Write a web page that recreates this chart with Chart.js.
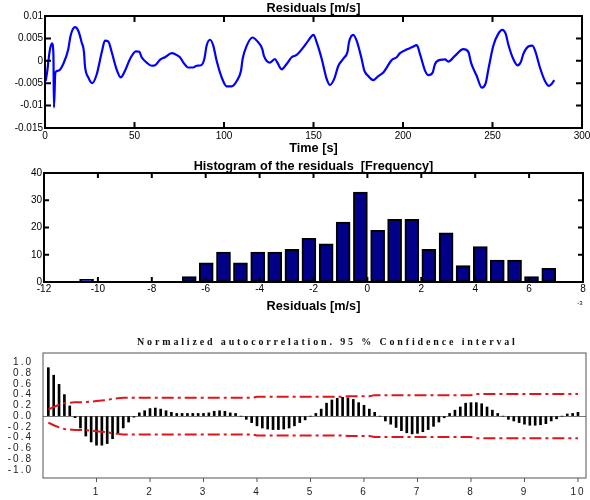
<!DOCTYPE html>
<html>
<head>
<meta charset="utf-8">
<script src="https://cdn.jsdelivr.net/npm/chart.js@4.4.1/dist/chart.umd.min.js"></script>
<style>
  html, body { margin: 0; padding: 0; background: #fff; }
  #page { position: relative; width: 590px; height: 500px; overflow: hidden; }
  canvas { position: absolute; left: 0; }
</style>
</head>
<body>
<div id="page">
  <canvas id="resid" width="590" height="160" style="top:0px"></canvas>
  <canvas id="hist" width="590" height="155" style="top:160px"></canvas>
  <canvas id="acf" width="590" height="170" style="top:330px"></canvas>
</div>
<script>
// ---- Residual time series ----
const timeSec = [0.4, 1.3, 1.8, 2.8, 3.9, 4.7, 5.0, 5.8, 7.5, 10.2,
  13, 14.3, 16.8, 18.6, 20.5, 21.8, 22.3, 24.2, 26.4, 28.9,
  31.7, 33.5, 35.4, 37.3, 40, 42.3, 44.7, 47.5, 50.8, 52.7,
  54, 56.8, 59.6, 61.5, 64.2, 67, 70.8, 72.6, 75.4, 77.3,
  80, 82.8, 84.7, 87.2, 89, 90.3, 92.2, 94, 95.9, 98.7,
  101.5, 104.3, 107.1, 109.5, 110.4, 112.7, 116, 118.3, 121.4, 122.3,
  125.7, 128.5, 129.8, 132.2, 135, 137.8, 140.6, 144.3, 147.1, 150,
  151.8, 154.6, 157.4, 159.2, 161.5, 163.9, 166.7, 169, 169.8, 172.2,
  174.1, 176.9, 178.4, 180.6, 183.4, 186.2, 189, 190.9, 193.7, 196.5,
  198.3, 202, 204.9, 207.7, 209.5, 212.3, 214.1, 216.6, 217.9, 220.7,
  223.5, 225.3, 229, 233.7, 236.5, 238, 241.2, 244, 246.2, 247.7,
  250.5, 253.2, 255.5, 257.4, 258.8, 261.6, 264, 265.9, 267.2, 270,
  272.3, 274.1, 276.5, 279.3, 281.6, 283, 284.5];
const residual = [-0.0045, -0.0022, -0.0004, 0.0026, 0.0039, 0.0015, -0.0104, -0.0026, -0.0022, -0.0007,
  0.0026, 0.0056, 0.0075, 0.0067, 0.0041, 0.0019, -0.0011, -0.0037, -0.0050, -0.0030,
  0.0019, 0.0045, 0.0043, 0.0019, -0.0019, -0.0037, -0.0022, 0.0004, 0.0021, 0.0020,
  0.0008, -0.0004, -0.0011, -0.0010, 0.0002, 0.0008, 0.0017, 0.0015, 0.0008, -0.0004,
  -0.0015, -0.0015, -0.0011, -0.0010, 0.0004, 0.0034, 0.0047, 0.0034, 0.0000, -0.0037,
  -0.0057, -0.0057, -0.0045, -0.0022, 0.0004, 0.0034, 0.0052, 0.0045, 0.0026, 0.0011,
  -0.0004, 0.0004, -0.0004, -0.0019, -0.0007, 0.0008, 0.0013, 0.0030, 0.0045, 0.0058,
  0.0041, 0.0004, -0.0041, -0.0054, -0.0041, -0.0011, 0.0005, 0.0020, 0.0041, 0.0058,
  0.0045, 0.0004, -0.0022, -0.0034, -0.0043, -0.0034, -0.0026, -0.0015, 0.0002, 0.0008,
  0.0017, 0.0025, 0.0030, 0.0035, 0.0015, -0.0022, -0.0032, -0.0026, -0.0007, 0.0002,
  0.0003, -0.0002, 0.0011, 0.0026, 0.0020, -0.0004, -0.0034, -0.0060, -0.0050, -0.0019,
  0.0034, 0.0060, 0.0069, 0.0060, 0.0037, 0.0004, -0.0010, -0.0002, 0.0015, 0.0032,
  0.0034, 0.0019, -0.0015, -0.0045, -0.0056, -0.0052, -0.0043];

// ---- Histogram of residuals (bin centres in 1e-3 m/s) ----
const binCenters = [-10.42, -9.79, -9.15, -8.52, -7.88, -7.25, -6.61, -5.98, -5.34, -4.71,
  -4.07, -3.44, -2.80, -2.17, -1.53, -0.90, -0.26, 0.38, 1.01, 1.65,
  2.28, 2.92, 3.55, 4.19, 4.82, 5.46, 6.09, 6.73];
const binCounts = [1, 0, 0, 0, 0, 0, 2, 7, 11, 7,
  11, 11, 12, 16, 14, 22, 33, 19, 23, 23,
  12, 18, 6, 13, 8, 8, 2, 5];

// ---- Normalized autocorrelation ----
const lags = [0.1, 0.2, 0.3, 0.4, 0.5, 0.6, 0.7, 0.8, 0.9, 1.0,
  1.1, 1.2, 1.3, 1.4, 1.5, 1.6, 1.7, 1.8, 1.9, 2.0,
  2.1, 2.2, 2.3, 2.4, 2.5, 2.6, 2.7, 2.8, 2.9, 3.0,
  3.1, 3.2, 3.3, 3.4, 3.5, 3.6, 3.7, 3.8, 3.9, 4.0,
  4.1, 4.2, 4.3, 4.4, 4.5, 4.6, 4.7, 4.8, 4.9, 5.0,
  5.1, 5.2, 5.3, 5.4, 5.5, 5.6, 5.7, 5.8, 5.9, 6.0,
  6.1, 6.2, 6.3, 6.4, 6.5, 6.6, 6.7, 6.8, 6.9, 7.0,
  7.1, 7.2, 7.3, 7.4, 7.5, 7.6, 7.7, 7.8, 7.9, 8.0,
  8.1, 8.2, 8.3, 8.4, 8.5, 8.6, 8.7, 8.8, 8.9, 9.0,
  9.1, 9.2, 9.3, 9.4, 9.5, 9.6, 9.7, 9.8, 9.9, 10.0];
const autocorr = [0.90, 0.76, 0.59, 0.40, 0.19, -0.03, -0.22, -0.37, -0.48, -0.54,
  -0.54, -0.51, -0.42, -0.31, -0.22, -0.11, -0.02, 0.06, 0.10, 0.14,
  0.15, 0.13, 0.10, 0.07, 0.05, 0.05, 0.05, 0.05, 0.05, 0.05,
  0.06, 0.09, 0.10, 0.09, 0.06, 0.05, 0.00, -0.06, -0.12, -0.18,
  -0.22, -0.24, -0.25, -0.25, -0.24, -0.22, -0.18, -0.12, -0.07, 0.00,
  0.05, 0.13, 0.24, 0.30, 0.33, 0.35, 0.34, 0.31, 0.25, 0.20,
  0.13, 0.07, 0.00, -0.09, -0.15, -0.21, -0.27, -0.31, -0.33, -0.32,
  -0.29, -0.25, -0.19, -0.11, -0.03, 0.05, 0.11, 0.17, 0.24, 0.25,
  0.25, 0.23, 0.17, 0.11, 0.05, 0.00, -0.06, -0.09, -0.12, -0.15,
  -0.17, -0.17, -0.16, -0.14, -0.09, -0.05, 0.00, 0.04, 0.05, 0.07];
// 95 % confidence band half-width at each lag
const confLimit = [0.12, 0.17, 0.21, 0.24, 0.25, 0.26, 0.26, 0.26, 0.27, 0.28,
  0.29, 0.30, 0.32, 0.33, 0.34, 0.34, 0.34, 0.34, 0.34, 0.34,
  0.34, 0.34, 0.34, 0.34, 0.34, 0.34, 0.34, 0.34, 0.34, 0.34,
  0.34, 0.34, 0.34, 0.34, 0.34, 0.34, 0.34, 0.34, 0.34, 0.36,
  0.36, 0.36, 0.36, 0.36, 0.36, 0.36, 0.36, 0.36, 0.36, 0.36,
  0.36, 0.36, 0.36, 0.36, 0.36, 0.36, 0.37, 0.37, 0.37, 0.37,
  0.37, 0.39, 0.39, 0.39, 0.39, 0.39, 0.39, 0.39, 0.39, 0.39,
  0.39, 0.39, 0.39, 0.39, 0.39, 0.39, 0.39, 0.39, 0.39, 0.39,
  0.41, 0.41, 0.41, 0.41, 0.41, 0.41, 0.41, 0.41, 0.41, 0.41,
  0.41, 0.41, 0.41, 0.41, 0.41, 0.41, 0.41, 0.41, 0.41, 0.41];

const SANS = '"Liberation Sans", Arial, sans-serif';
const SERIF = '"Liberation Serif", "Times New Roman", serif';

// Box around the plot area, tick marks, and free-standing captions
const framePlugin = {
  id: 'frame',
  afterDatasetsDraw(chart, _args, o) {
    const { ctx, chartArea: a, scales } = chart;
    ctx.save();
    (o.texts || []).forEach(t => {
      ctx.font = t.font;
      ctx.fillStyle = t.color || '#000';
      ctx.textAlign = t.align || 'center';
      ctx.textBaseline = 'middle';
      ctx.letterSpacing = t.spacing || '0px';
      const x = t.x === 'mid' ? (a.left + a.right) / 2 : t.x;
      ctx.fillText(t.text, x, t.y);
    });
    ctx.letterSpacing = '0px';
    ctx.strokeStyle = o.color;
    ctx.lineWidth = o.width;
    ctx.strokeRect(a.left, a.top, a.right - a.left, a.bottom - a.top);
    ctx.lineWidth = o.tickWidth;
    ctx.beginPath();
    const tl = o.tickLen;
    scales.x.ticks.forEach(t => {
      const px = scales.x.getPixelForValue(t.value);
      if (o.inward) {
        ctx.moveTo(px, a.bottom); ctx.lineTo(px, a.bottom - tl);
        ctx.moveTo(px, a.top); ctx.lineTo(px, a.top + tl);
      } else if (t.value > 0) {
        ctx.moveTo(px, a.bottom); ctx.lineTo(px, a.bottom + tl);
      }
    });
    if (o.inward) {
      scales.y.ticks.forEach(t => {
        const py = scales.y.getPixelForValue(t.value);
        ctx.moveTo(a.left, py); ctx.lineTo(a.left + tl, py);
        ctx.moveTo(a.right, py); ctx.lineTo(a.right - tl, py);
      });
    }
    ctx.stroke();
    ctx.restore();
  }
};

const fixX = h => s => { s.height = h; s.paddingLeft = 0; s.paddingRight = 0; };
const fixY = w => s => { s.width = w; s.paddingTop = 0; s.paddingBottom = 0; };
const tickFont = { family: SANS, size: 10 };

// ---- Panel 1: residuals over time ----
new Chart(document.getElementById('resid'), {
  type: 'line',
  data: {
    datasets: [{
      data: timeSec.map((t, i) => ({ x: t, y: residual[i] })),
      borderColor: '#0000ff',
      borderWidth: 2.2,
      pointRadius: 0,
      cubicInterpolationMode: 'monotone',
      fill: false
    }]
  },
  options: {
    responsive: false, animation: false, devicePixelRatio: 1,
    layout: { padding: { top: 16, right: 8, bottom: 0, left: 0 } },
    plugins: {
      legend: { display: false }, tooltip: { enabled: false },
      frame: {
        color: '#000', width: 2, tickWidth: 2, tickLen: 6, inward: true,
        texts: [
          { text: 'Residuals [m/s]', x: 'mid', y: 8, font: 'bold 12.7px ' + SANS },
          { text: 'Time [s]', x: 'mid', y: 148, font: 'bold 12.7px ' + SANS }
        ]
      }
    },
    scales: {
      x: {
        type: 'linear', min: 0, max: 300,
        grid: { display: false, drawTicks: false }, border: { display: false },
        ticks: { stepSize: 50, autoSkip: false, padding: 2, color: '#000', font: tickFont, maxRotation: 0 },
        afterFit: fixX(32)
      },
      y: {
        min: -0.015, max: 0.01,
        grid: { display: false, drawTicks: false }, border: { display: false },
        ticks: { stepSize: 0.005, autoSkip: false, padding: 2, color: '#000', font: tickFont,
          callback: v => String(parseFloat(v.toFixed(4))) },
        afterFit: fixY(45)
      }
    }
  },
  plugins: [framePlugin]
});

// ---- Panel 2: histogram ----
new Chart(document.getElementById('hist'), {
  type: 'bar',
  data: {
    datasets: [{
      data: binCenters.map((c, i) => ({ x: c, y: binCounts[i] })),
      backgroundColor: '#000088',
      borderColor: '#000',
      borderWidth: 2,
      borderSkipped: false,
      barThickness: 14
    }]
  },
  options: {
    responsive: false, animation: false, devicePixelRatio: 1,
    layout: { padding: { top: 13, right: 7, bottom: 0, left: 0 } },
    plugins: {
      legend: { display: false }, tooltip: { enabled: false },
      frame: {
        color: '#000', width: 2, tickWidth: 2, tickLen: 5, inward: true,
        texts: [
          { text: 'Histogram of the residuals  [Frequency]', x: 'mid', y: 6, font: 'bold 12.7px ' + SANS },
          { text: 'Residuals [m/s]', x: 'mid', y: 146, font: 'bold 12.7px ' + SANS },
          { text: '-3', x: 580, y: 143, font: '6px ' + SANS }
        ]
      }
    },
    scales: {
      x: {
        type: 'linear', min: -12, max: 8, offset: false,
        grid: { display: false, drawTicks: false }, border: { display: false },
        ticks: { stepSize: 2, autoSkip: false, padding: 1, color: '#000', font: tickFont, maxRotation: 0 },
        afterFit: fixX(33)
      },
      y: {
        min: 0, max: 40,
        grid: { display: false, drawTicks: false }, border: { display: false },
        ticks: { stepSize: 10, autoSkip: false, padding: 2, color: '#000', font: tickFont },
        afterFit: fixY(44)
      }
    }
  },
  plugins: [framePlugin]
});

// ---- Panel 3: autocorrelation with confidence band ----
const spacedText = {
  id: 'spacedText',
  beforeDraw(c) { c.ctx.letterSpacing = '2px'; },
  afterDraw(c) { c.ctx.letterSpacing = '0px'; }
};
const bandStyle = {
  type: 'line', borderColor: '#e0141c', borderWidth: 2, pointRadius: 0,
  borderDash: [12, 4, 3, 4], fill: false, tension: 0
};
new Chart(document.getElementById('acf'), {
  type: 'bar',
  data: {
    datasets: [
      { data: lags.map((l, i) => ({ x: l, y: autocorr[i] })), backgroundColor: '#000', barThickness: 2, order: 2 },
      Object.assign({ data: lags.map((l, i) => ({ x: l, y: confLimit[i] })), order: 1 }, bandStyle),
      Object.assign({ data: lags.map((l, i) => ({ x: l, y: -confLimit[i] })), order: 1 }, bandStyle)
    ]
  },
  options: {
    responsive: false, animation: false, devicePixelRatio: 1,
    layout: { padding: { top: 23, right: 4, bottom: 0, left: 0 } },
    plugins: {
      legend: { display: false }, tooltip: { enabled: false },
      frame: {
        color: '#555', width: 1, tickWidth: 1, tickLen: 4, inward: false,
        texts: [
          { text: 'Normalized autocorrelation. 95 % Confidence interval', x: 137, y: 12, align: 'left',
            font: 'bold 10px ' + SERIF, spacing: '2.85px', color: '#111' }
        ]
      }
    },
    scales: {
      x: {
        type: 'linear', min: 0, max: 10.15, offset: false,
        grid: { display: false, drawTicks: false }, border: { display: false },
        ticks: { stepSize: 1, autoSkip: false, includeBounds: false, padding: 8, color: '#222', font: tickFont, maxRotation: 0,
          callback: v => (v > 0 ? String(v) : '') },
        afterFit: fixX(22)
      },
      y: {
        min: -1.15, max: 1.173,
        grid: { drawTicks: false, lineWidth: 1,
          color: c => (c.tick && Math.abs(c.tick.value) < 1e-9 ? '#777' : 'rgba(0,0,0,0)') },
        border: { display: false },
        ticks: { stepSize: 0.2, autoSkip: false, includeBounds: false, padding: 10, color: '#222', font: tickFont,
          callback: v => (Math.abs(v) < 1e-9 ? '0.0' : v.toFixed(1)) },
        afterFit: fixY(43)
      }
    }
  },
  plugins: [spacedText, framePlugin]
});
</script>
</body>
</html>
